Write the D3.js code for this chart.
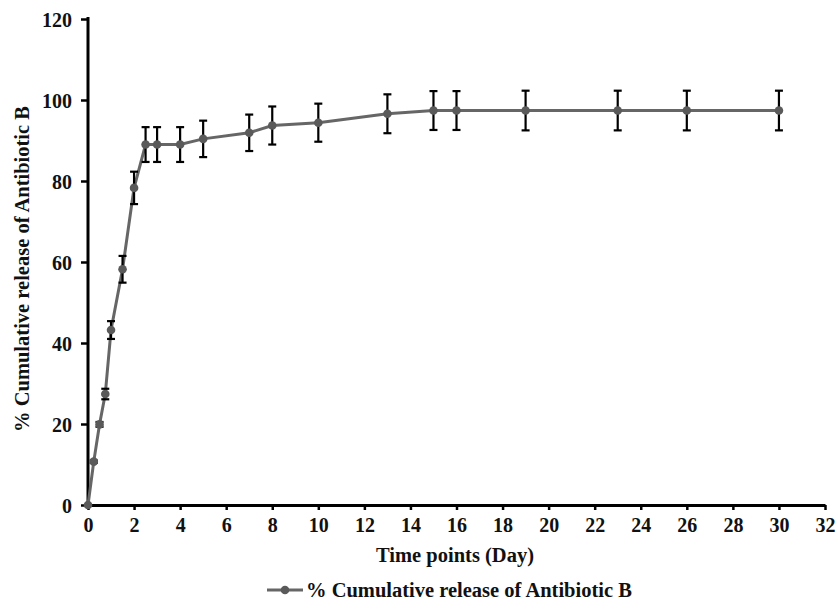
<!DOCTYPE html>
<html><head><meta charset="utf-8">
<script src="https://cdn.jsdelivr.net/npm/d3@7"></script>
<style>
body{margin:0;background:#fff;}
svg text{font-family:"Liberation Serif","Times New Roman","DejaVu Serif",serif !important;font-weight:bold;}
</style></head>
<body><svg id="c" width="838" height="611"></svg>
<script>
const days = [0,0.25,0.5,0.75,1,1.5,2,2.5,3,4,5,7,8,10,13,15,16,19,23,26,30];
const release = [0,10.7,19.9,27.4,43.2,58.2,78.3,89.0,89.0,89.0,90.4,91.9,93.7,94.4,96.6,97.4,97.4,97.4,97.4,97.4,97.4];
const sdev = [0,0.3,0.6,1.3,2.2,3.3,4.0,4.3,4.3,4.3,4.5,4.5,4.7,4.7,4.8,4.8,4.8,4.9,4.9,4.9,4.9];
const xTicks = [0,2,4,6,8,10,12,14,16,18,20,22,24,26,28,30,32];
const yTicks = [0,20,40,60,80,100,120];
const xTitle = "Time points (Day)";
const yTitle = "% Cumulative release of Antibiotic B";
const legendLabel = "% Cumulative release of Antibiotic B";

const FONT = "'Liberation Serif','Times New Roman',serif";
const svg = d3.select("#c");
const x = d3.scaleLinear().domain([0,32]).range([88,825]);
const y = d3.scaleLinear().domain([0,120]).range([505,19]);

// axes
const xAxis = svg.append("g").attr("transform","translate(0,505)")
  .call(d3.axisBottom(x).tickValues(xTicks).tickSize(5).tickSizeOuter(0).tickPadding(8));
const yAxis = svg.append("g").attr("transform","translate(88,0)")
  .call(d3.axisLeft(y).tickValues(yTicks).tickSize(7).tickSizeOuter(0).tickPadding(9));
[xAxis,yAxis].forEach(g=>{
  g.attr("font-family",FONT).attr("font-size",20).attr("font-weight","bold");
  g.select(".domain").attr("stroke","#000").attr("stroke-width",3);
  g.selectAll(".tick line").attr("stroke","#000").attr("stroke-width",2.5);
  g.selectAll(".tick text").attr("fill","#111").style("font-size","20px");
});
yAxis.select(".domain").attr("d","M0,505V17");
yAxis.selectAll(".tick text").attr("dy","0.35em");
xAxis.selectAll(".tick text").attr("dy","0.72em");

// line
const pts = days.map((d,i)=>({d, v:release[i], e:sdev[i]}));
svg.append("path").datum(pts)
  .attr("fill","none").attr("stroke","#666").attr("stroke-width",3)
  .attr("d", d3.line().x(p=>x(p.d)).y(p=>y(p.v)));

// error bars
const eb = svg.append("g").attr("stroke","#000").attr("stroke-width",2.2);
pts.filter(p=>p.e>0).forEach(p=>{
  const cx = x(p.d);
  eb.append("line").attr("x1",cx).attr("x2",cx).attr("y1",y(p.v+p.e)).attr("y2",y(p.v-p.e));
  eb.append("line").attr("x1",cx-4).attr("x2",cx+4).attr("y1",y(p.v+p.e)).attr("y2",y(p.v+p.e));
  eb.append("line").attr("x1",cx-4).attr("x2",cx+4).attr("y1",y(p.v-p.e)).attr("y2",y(p.v-p.e));
});

// markers
svg.append("g").selectAll("circle").data(pts).join("circle")
  .attr("cx",p=>x(p.d)).attr("cy",p=>y(p.v)).attr("r",4.3).attr("fill","#5a5a5a");

// titles
svg.append("text").attr("x",455).attr("y",562).attr("text-anchor","middle")
  .attr("font-family",FONT).style("font-size","20.5px").attr("fill","#111").text(xTitle);
svg.append("text").attr("transform","translate(29,269) rotate(-90)").attr("text-anchor","middle")
  .attr("font-family",FONT).style("font-size","20.5px").attr("fill","#111").text(yTitle);

// legend
const lg = svg.append("g");
lg.append("line").attr("x1",267).attr("x2",303).attr("y1",590).attr("y2",590).attr("stroke","#666").attr("stroke-width",3);
lg.append("circle").attr("cx",285).attr("cy",590).attr("r",4.3).attr("fill","#5a5a5a");
lg.append("text").attr("x",306).attr("y",597).attr("font-family",FONT).style("font-size","20.5px").attr("fill","#111").text(legendLabel);
</script></body></html>
